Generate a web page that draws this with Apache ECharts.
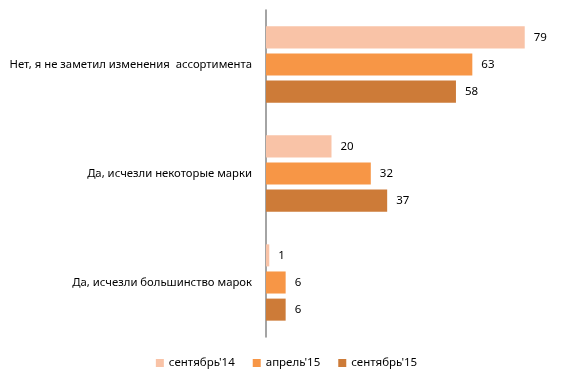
<!DOCTYPE html>
<html><head><meta charset="utf-8">
<script src="https://cdn.jsdelivr.net/npm/echarts@6/dist/echarts.min.js"></script>
<style>html,body{margin:0;padding:0;background:#fff}#c{width:573px;height:384px}</style>
</head><body><div id="c"></div>
<script>
const categories = ["Нет, я не заметил изменения  ассортимента", "Да, исчезли некоторые марки", "Да, исчезли большинство марок"];
const seriesNames = ["сентябрь'14", "апрель'15", "сентябрь'15"];
const sep14 = [79, 20, 1];
const apr15 = [63, 32, 6];
const sep15 = [58, 37, 6];
const colors = ["#F9C3A7", "#F79646", "#CD7B38"];
const values = [sep14, apr15, sep15];
const font = "Noto Sans";
const chart = echarts.init(document.getElementById('c'), null, {renderer: 'canvas'});
chart.setOption({
  animation: false,
  textStyle: {fontFamily: font},
  legend: {
    bottom: 10, left: 'center', itemWidth: 8, itemHeight: 8, itemGap: 18,
    icon: 'rect',
    textStyle: {fontFamily: font, fontSize: 11.5, color: '#000'},
    data: seriesNames
  },
  grid: {left: 266, right: 45, top: 10, bottom: 47, containLabel: false},
  xAxis: {type: 'value', min: 0, max: 80, show: false},
  yAxis: {
    type: 'category', data: categories, inverse: true,
    axisLine: {lineStyle: {color: '#868686', width: 1.5}},
    axisTick: {show: false},
    axisLabel: {fontFamily: font, fontSize: 11.3, color: '#000', margin: 14}
  },
  series: values.map((v, i) => ({
    name: seriesNames[i], type: 'bar', data: v,
    barGap: '23%', barCategoryGap: '30%',
    itemStyle: {color: colors[i]},
    label: {show: true, position: 'right', distance: 9, fontFamily: font, fontSize: 11.5, color: '#000'}
  }))
});
</script></body></html>
